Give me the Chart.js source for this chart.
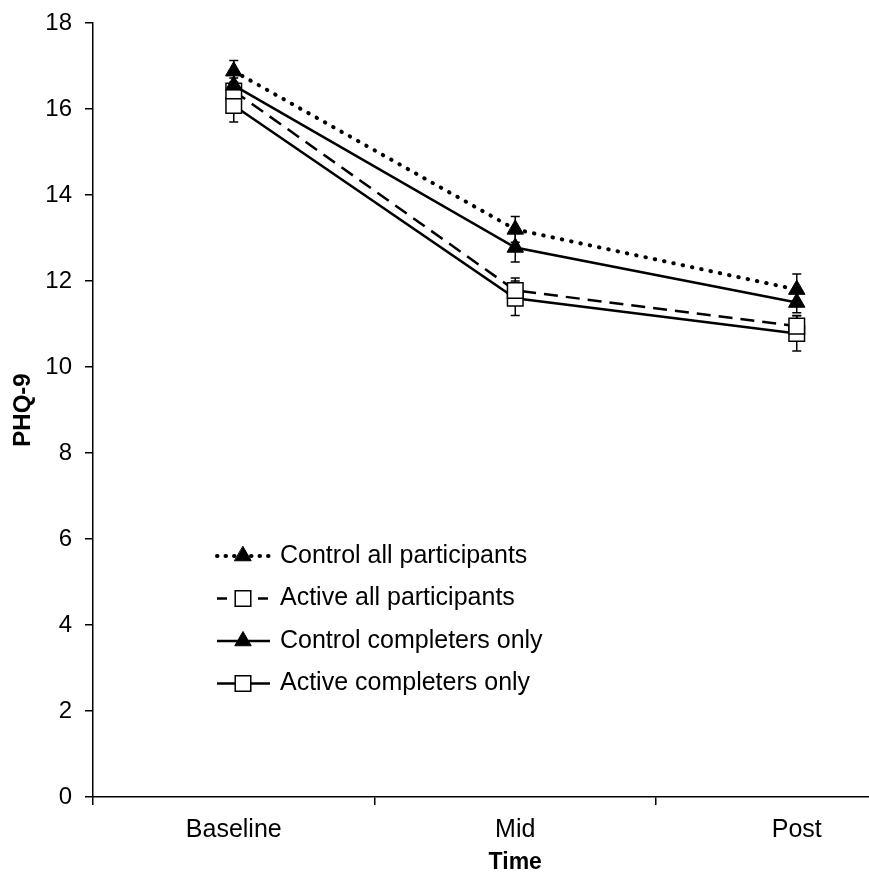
<!DOCTYPE html>
<html>
<head>
<meta charset="utf-8">
<script src="https://cdn.jsdelivr.net/npm/chart.js@4.4.0/dist/chart.umd.min.js"></script>
<style>
html, body { margin: 0; padding: 0; background: #fff; overflow: hidden; width: 869px; height: 874px; }
#chart { display: block; }
</style>
</head>
<body>
<canvas id="chart" width="950" height="874" style="width:950px;height:874px"></canvas>
<script>
// data
const timePoints = ['Baseline', 'Mid', 'Post'];
const controlAll = [16.88, 13.2, 11.8];
const activeAll = [16.42, 11.78, 10.95];
const controlCompleters = [16.55, 12.78, 11.5];
const activeCompleters = [16.08, 11.6, 10.78];
const controlAllErr = [0.25, 0.3, 0.36];
const activeAllErr = [0.3, 0.29, 0.25];
const controlCompletersErr = [0.3, 0.34, 0.24];
const activeCompletersErr = [0.38, 0.4, 0.41];
const seriesNames = ['Control all participants', 'Active all participants', 'Control completers only', 'Active completers only'];
const yMin = 0, yMax = 18, yStep = 2;

const fontFamily = "'Liberation Sans', Arial, sans-serif";

// error bars, drawn under the lines and markers
const errorBars = {
    id: 'errorBars',
    beforeDatasetsDraw(chart) {
        const ctx = chart.ctx;
        const yScale = chart.scales.y;
        ctx.save();
        ctx.strokeStyle = '#000';
        ctx.lineWidth = 1.5;
        chart.data.datasets.forEach((ds, i) => {
            const meta = chart.getDatasetMeta(i);
            meta.data.forEach((pt, j) => {
                const top = yScale.getPixelForValue(ds.data[j] + ds.errors[j]);
                const bot = yScale.getPixelForValue(ds.data[j] - ds.errors[j]);
                ctx.beginPath();
                ctx.moveTo(pt.x, top); ctx.lineTo(pt.x, bot);
                ctx.moveTo(pt.x - 4.5, top); ctx.lineTo(pt.x + 4.5, top);
                ctx.moveTo(pt.x - 4.5, bot); ctx.lineTo(pt.x + 4.5, bot);
                ctx.stroke();
            });
        });
        ctx.restore();
    }
};

// legend inside the plot, lower left
const innerLegend = {
    id: 'innerLegend',
    afterDraw(chart) {
        const ctx = chart.ctx;
        const area = chart.chartArea;
        const x0 = area.left + 124, x1 = area.left + 177, xm = area.left + 150;
        const legendDash = [[0.5, 8], [10, 31], [], []];
        ctx.save();
        seriesNames.forEach((name, i) => {
            const ds = chart.data.datasets[i];
            const y = area.top + 533 + i * 42.5;
            ctx.beginPath();
            ctx.setLineDash(legendDash[i]);
            ctx.lineCap = ds.borderCapStyle || 'butt';
            ctx.lineWidth = ds.borderWidth;
            ctx.strokeStyle = '#000';
            ctx.moveTo(x0, y); ctx.lineTo(x1, y);
            ctx.stroke();
            ctx.setLineDash([]);
            ctx.fillStyle = ds.pointBackgroundColor;
            ctx.strokeStyle = '#000';
            ctx.lineWidth = ds.pointBorderWidth;
            Chart.helpers.drawPoint(ctx, { pointStyle: ds.pointStyle, radius: ds.pointRadius, borderWidth: ds.pointBorderWidth, rotation: 0 }, xm, y);
            ctx.fillStyle = '#000';
            ctx.font = '25px ' + fontFamily;
            ctx.textAlign = 'left';
            ctx.textBaseline = 'middle';
            ctx.fillText(name, area.left + 187, y);
        });
        ctx.restore();
    }
};

const chart = document.querySelector('#chart').getContext('2d');

new Chart(chart, {
    type: 'line',
    data: {
        labels: timePoints,
        datasets: [
            {
                label: seriesNames[0],
                data: controlAll,
                errors: controlAllErr,
                borderColor: '#000',
                borderWidth: 4,
                borderDash: [0.5, 9],
                borderCapStyle: 'round',
                pointStyle: 'triangle',
                pointRadius: 9.5,
                pointBackgroundColor: '#000',
                pointBorderColor: '#000',
                pointBorderWidth: 1,
                order: 0
            },
            {
                label: seriesNames[1],
                data: activeAll,
                errors: activeAllErr,
                borderColor: '#000',
                borderWidth: 2.5,
                borderDash: [14, 8],
                borderCapStyle: 'butt',
                pointStyle: 'rect',
                pointRadius: 11,
                pointBackgroundColor: '#fff',
                pointBorderColor: '#000',
                pointBorderWidth: 1.5,
                order: 2
            },
            {
                label: seriesNames[2],
                data: controlCompleters,
                errors: controlCompletersErr,
                borderColor: '#000',
                borderWidth: 2.5,
                borderCapStyle: 'butt',
                pointStyle: 'triangle',
                pointRadius: 9.5,
                pointBackgroundColor: '#000',
                pointBorderColor: '#000',
                pointBorderWidth: 1,
                order: 1
            },
            {
                label: seriesNames[3],
                data: activeCompleters,
                errors: activeCompletersErr,
                borderColor: '#000',
                borderWidth: 2.5,
                borderCapStyle: 'butt',
                pointStyle: 'rect',
                pointRadius: 11,
                pointBackgroundColor: '#fff',
                pointBorderColor: '#000',
                pointBorderWidth: 1.5,
                order: 3
            }
        ]
    },
    options: {
        responsive: false,
        animation: false,
        layout: { padding: { top: 23, right: 4, bottom: 0, left: 0 } },
        elements: { line: { tension: 0 } },
        plugins: {
            legend: { display: false },
            tooltip: { enabled: false }
        },
        scales: {
            x: {
                offset: true,
                grid: { offset: true, drawOnChartArea: false, drawTicks: true, tickLength: 8, color: '#000', lineWidth: 1.5 },
                border: { color: '#000', width: 1.5 },
                ticks: { color: '#000', font: { family: fontFamily, size: 25 }, padding: 10 },
                title: { display: true, text: 'Time', color: '#000', font: { family: fontFamily, size: 23, weight: 'bold', lineHeight: 1 }, padding: { top: 0, bottom: 0 } },
                afterFit(scale) { scale.height = 77; }
            },
            y: {
                min: yMin,
                max: yMax,
                grid: { drawOnChartArea: false, drawTicks: true, tickLength: 8, color: '#000', lineWidth: 1.5 },
                border: { color: '#000', width: 1.5 },
                ticks: { stepSize: yStep, color: '#000', font: { family: fontFamily, size: 24, lineHeight: 1 }, padding: 13 },
                title: { display: true, text: 'PHQ-9', color: '#000', font: { family: fontFamily, size: 24, weight: 'bold', lineHeight: 1 }, padding: { top: 11, bottom: 0 } },
                afterFit(scale) { scale.width = 93; scale.paddingTop = 0; scale.paddingBottom = 0; }
            }
        }
    },
    plugins: [errorBars, innerLegend]
});
</script>
</body>
</html>
